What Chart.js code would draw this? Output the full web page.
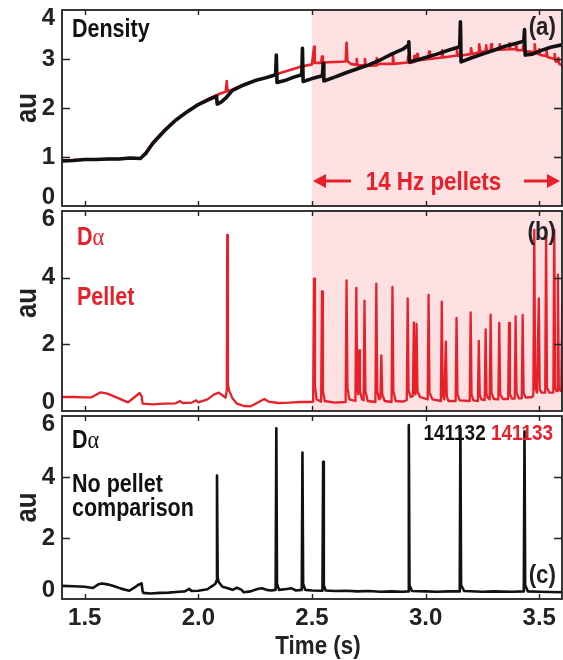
<!DOCTYPE html>
<html><head><meta charset="utf-8">
<script src="https://cdn.jsdelivr.net/npm/chart.js@4.4.1/dist/chart.umd.min.js"></script>
<style>
html,body{margin:0;padding:0;background:#fff;}
#wrap{position:relative;width:563px;height:660px;overflow:hidden;}
#wrap canvas{position:absolute;left:0;top:0;}
</style></head><body>
<div id="wrap">
<canvas id="ca" width="563" height="660"></canvas>
<canvas id="cb" width="563" height="660"></canvas>
<canvas id="cc" width="563" height="660"></canvas>
</div>
<script>
// ---------------- DATA ----------------
const timeTicks = [1.5, 2.0, 2.5, 3.0, 3.5];
const timeTickLabels = ['1.5', '2.0', '2.5', '3.0', '3.5'];
const timeRange = [1.4, 3.6];
const densityTicks = [0, 1, 2, 3, 4];
const dalphaTicks = [0, 2, 4, 6];
const pelletWindow = [2.5, 3.6];

// (a) line-averaged density, shot 141132 (no pellets, black)
const density141132 = [
 [1.40,0.92],[1.45,0.93],[1.50,0.95],[1.55,0.95],[1.60,0.96],[1.65,0.96],[1.70,0.98],[1.745,0.97],
 [1.77,1.08],[1.80,1.28],[1.85,1.53],[1.90,1.75],[1.95,1.92],[2.00,2.07],[2.05,2.18],[2.080,2.24],
 [2.083,2.08],[2.10,2.12],[2.12,2.20],[2.15,2.36],[2.20,2.47],[2.25,2.56],[2.30,2.62],[2.340,2.68],
 [2.343,3.08],[2.346,2.52],[2.38,2.56],[2.42,2.63],[2.455,2.68],[2.458,3.22],[2.461,2.54],[2.50,2.60],
 [2.546,2.66],[2.549,2.91],[2.552,2.55],[2.60,2.63],[2.65,2.72],[2.70,2.80],[2.75,2.88],[2.80,2.98],
 [2.85,3.10],[2.90,3.20],[2.923,3.28],[2.926,3.35],[2.929,2.94],[2.97,2.99],[3.00,3.03],[3.05,3.10],
 [3.10,3.18],[3.150,3.25],[3.153,3.76],[3.156,2.94],[3.20,3.02],[3.25,3.10],[3.30,3.18],[3.35,3.26],
 [3.40,3.32],[3.432,3.36],[3.435,3.60],[3.438,3.08],[3.47,3.10],[3.50,3.16],[3.55,3.24],[3.60,3.29]
];
// (a) density, shot 141133 (14 Hz pellets, red)
const density141133 = [
 [1.40,0.93],[1.45,0.94],[1.50,0.95],[1.55,0.95],[1.60,0.96],[1.65,0.96],[1.70,0.97],[1.745,0.98],
 [1.77,1.10],[1.80,1.30],[1.85,1.55],[1.90,1.76],[1.95,1.93],[2.00,2.08],[2.05,2.20],[2.10,2.30],
 [2.120,2.33],[2.125,2.55],[2.128,2.34],[2.15,2.38],[2.20,2.48],[2.25,2.56],[2.30,2.63],[2.35,2.70],
 [2.40,2.77],[2.45,2.84],[2.50,2.89],[2.509,3.25],[2.512,2.92],[2.54,2.92],[2.544,3.05],[2.548,2.93],
 [2.60,2.94],[2.648,2.95],[2.652,3.33],[2.656,2.96],[2.67,2.90],[2.695,2.88],[2.697,3.00],[2.70,2.87],
 [2.731,2.87],[2.733,3.00],[2.736,2.86],[2.783,2.87],[2.785,3.02],[2.788,2.88],[2.80,2.90],[2.854,2.90],
 [2.856,3.08],[2.86,2.90],[2.921,2.93],[2.923,3.05],[2.927,2.92],[2.948,2.94],[2.950,3.06],[2.953,2.95],
 [2.96,2.96],[2.962,3.10],[2.966,2.97],[3.013,3.00],[3.015,3.15],[3.019,3.00],[3.071,3.03],[3.073,3.18],
 [3.077,3.03],[3.136,3.07],[3.138,3.18],[3.142,3.06],[3.198,3.10],[3.200,3.22],[3.204,3.10],[3.234,3.13],
 [3.236,3.30],[3.240,3.14],[3.264,3.16],[3.266,3.28],[3.270,3.16],[3.286,3.17],[3.288,3.30],[3.292,3.18],
 [3.324,3.19],[3.326,3.30],[3.330,3.19],[3.367,3.20],[3.369,3.32],[3.373,3.20],[3.396,3.20],[3.398,3.30],
 [3.402,3.18],[3.427,3.18],[3.429,3.28],[3.433,3.16],[3.478,3.14],[3.480,3.30],[3.484,3.12],[3.498,3.10],
 [3.500,3.20],[3.504,3.08],[3.530,3.06],[3.532,3.20],[3.536,3.04],[3.566,3.00],[3.568,3.10],[3.572,2.95],
 [3.582,2.94],[3.584,3.02],[3.588,2.90],[3.600,2.87]
];
// (b) D-alpha, shot 141133 (pellets)
const dalpha141133 = [
 [1.40,0.42],[1.45,0.42],[1.50,0.41],[1.53,0.41],[1.57,0.56],[1.60,0.52],[1.65,0.38],[1.69,0.26],
 [1.72,0.42],[1.742,0.54],[1.750,0.45],[1.755,0.22],[1.80,0.20],[1.85,0.22],[1.90,0.23],[1.92,0.30],
 [1.93,0.24],[1.97,0.25],[1.99,0.32],[2.00,0.26],[2.04,0.35],[2.07,0.50],[2.09,0.55],[2.11,0.45],
 [2.12,0.40],[2.125,0.60],[2.127,5.28],[2.130,0.80],[2.135,0.62],[2.15,0.38],[2.17,0.22],[2.20,0.15],
 [2.23,0.14],[2.26,0.25],[2.29,0.36],[2.31,0.28],[2.35,0.24],[2.40,0.25],[2.45,0.27],[2.50,0.27],
 [2.505,0.28],[2.509,3.97],[2.513,0.75],[2.520,0.35],[2.540,0.28],[2.544,3.59],[2.548,0.60],[2.556,0.30],
 [2.60,0.25],[2.648,0.27],[2.652,3.92],[2.656,0.70],[2.664,0.35],[2.691,0.30],[2.695,3.69],[2.699,0.80],
 [2.703,0.50],[2.707,1.82],[2.711,0.60],[2.720,0.35],[2.727,0.32],[2.731,3.31],[2.735,0.60],[2.745,0.30],
 [2.779,0.27],[2.783,3.82],[2.787,0.60],[2.795,0.35],[2.801,0.38],[2.805,1.67],[2.809,0.50],[2.820,0.30],
 [2.850,0.27],[2.854,3.72],[2.858,0.60],[2.868,0.30],[2.900,0.28],[2.917,0.33],[2.921,3.38],[2.925,0.60],
 [2.935,0.42],[2.944,0.45],[2.948,2.66],[2.952,0.55],[2.956,0.50],[2.960,2.61],[2.964,0.60],[2.975,0.42],
 [3.009,0.35],[3.013,3.48],[3.017,0.55],[3.030,0.35],[3.067,0.30],[3.071,3.28],[3.075,0.50],[3.082,0.35],
 [3.085,0.35],[3.089,2.08],[3.093,0.45],[3.100,0.30],[3.132,0.30],[3.136,2.79],[3.140,0.50],[3.150,0.32],
 [3.194,0.30],[3.198,2.96],[3.202,0.50],[3.210,0.32],[3.230,0.30],[3.234,2.10],[3.238,0.50],[3.245,0.35],
 [3.260,0.33],[3.264,2.45],[3.268,0.50],[3.275,0.38],[3.282,0.35],[3.286,2.89],[3.290,0.55],[3.300,0.36],
 [3.320,0.35],[3.324,2.64],[3.328,0.50],[3.340,0.36],[3.363,0.36],[3.367,2.64],[3.371,0.50],[3.380,0.37],
 [3.392,0.37],[3.396,2.84],[3.400,0.55],[3.410,0.38],[3.423,0.38],[3.427,2.88],[3.431,0.55],[3.440,0.40],
 [3.470,0.42],[3.474,0.50],[3.478,5.43],[3.482,0.70],[3.490,0.55],[3.494,0.55],[3.498,3.38],[3.502,0.65],
 [3.510,0.55],[3.526,0.55],[3.530,5.38],[3.534,0.70],[3.545,0.55],[3.562,0.55],[3.566,5.43],[3.570,0.70],
 [3.576,0.60],[3.579,0.60],[3.582,4.09],[3.586,0.70],[3.594,0.60],[3.597,0.60],[3.601,3.18]
];
// (c) D-alpha, shot 141132 (no pellets)
const dalpha141132 = [
 [1.40,0.43],[1.45,0.42],[1.50,0.40],[1.536,0.36],[1.56,0.48],[1.576,0.51],[1.60,0.48],[1.63,0.42],
 [1.66,0.34],[1.695,0.27],[1.72,0.38],[1.734,0.46],[1.750,0.51],[1.755,0.25],[1.758,0.20],[1.79,0.18],
 [1.83,0.20],[1.87,0.21],[1.916,0.24],[1.94,0.25],[1.96,0.33],[1.97,0.26],[2.00,0.27],[2.04,0.32],
 [2.06,0.42],[2.075,0.50],[2.080,0.60],[2.082,4.05],[2.085,0.70],[2.090,0.55],[2.106,0.40],[2.13,0.35],
 [2.15,0.30],[2.17,0.37],[2.19,0.30],[2.20,0.22],[2.23,0.25],[2.26,0.33],[2.28,0.35],[2.30,0.30],
 [2.32,0.28],[2.340,0.30],[2.343,5.60],[2.346,0.50],[2.355,0.30],[2.39,0.33],[2.41,0.35],[2.43,0.28],
 [2.455,0.30],[2.458,4.80],[2.461,0.50],[2.47,0.30],[2.50,0.28],[2.546,0.27],[2.549,4.50],[2.552,0.45],
 [2.56,0.28],[2.60,0.26],[2.65,0.27],[2.70,0.25],[2.75,0.26],[2.80,0.24],[2.85,0.25],[2.90,0.24],
 [2.923,0.25],[2.926,5.70],[2.929,0.45],[2.94,0.26],[3.00,0.25],[3.05,0.24],[3.10,0.25],[3.150,0.25],
 [3.153,5.60],[3.156,0.45],[3.17,0.26],[3.25,0.24],[3.30,0.25],[3.38,0.24],[3.432,0.25],[3.435,5.50],
 [3.438,0.45],[3.45,0.25],[3.50,0.24],[3.55,0.23],[3.60,0.22]
];

// ---------------- STYLE ----------------
const FAM = "'Liberation Sans',Arimo,Arial,sans-serif";
const SX = 0.86;               // horizontal condensing of annotation text
const RED = '#e8202a';
const BLACK = '#111111';
const AXIS = '#222222';
const SHADE = '#fce0e2';
const bf = (s) => `bold ${s}px ${FAM}`;
const ALPHA = "26px 'Liberation Serif','DejaVu Serif',serif";
const toXY = a => a.map(p => ({x: p[0], y: p[1]}));

function drawParts(ctx, parts, x, y, align, rot) {
  ctx.save();
  let total = 0;
  parts.forEach(p => { ctx.font = p.font; total += ctx.measureText(p.text).width; });
  ctx.translate(x, y);
  if (rot) ctx.rotate(rot);
  ctx.scale(SX, 1);
  let cx = align === 'right' ? -total : align === 'center' ? -total / 2 : 0;
  ctx.textAlign = 'left';
  ctx.textBaseline = 'alphabetic';
  parts.forEach(p => {
    ctx.font = p.font; ctx.fillStyle = p.color;
    ctx.fillText(p.text, cx, 0);
    cx += ctx.measureText(p.text).width;
  });
  ctx.restore();
}

const framePlugin = {
  id: 'frame',
  beforeDatasetsDraw(chart, args, o) {
    if (!o.shade) return;
    const {ctx, chartArea: ca, scales: {x}} = chart;
    const x0 = x.getPixelForValue(pelletWindow[0]);
    const x1 = x.getPixelForValue(pelletWindow[1]);
    ctx.save();
    ctx.fillStyle = SHADE;
    ctx.fillRect(x0, ca.top, x1 - x0, ca.bottom - ca.top);
    ctx.restore();
  },
  afterDatasetsDraw(chart, args, o) {
    const {ctx, chartArea: ca, scales: {x, y}} = chart;
    ctx.save();
    ctx.strokeStyle = AXIS;
    ctx.lineWidth = 1.8;
    ctx.strokeRect(ca.left, ca.top, ca.right - ca.left, ca.bottom - ca.top);
    ctx.lineWidth = 1.4;
    ctx.beginPath();
    timeTicks.forEach(v => {
      const px = Math.round(x.getPixelForValue(v)) + 0.5;
      ctx.moveTo(px, ca.bottom); ctx.lineTo(px, ca.bottom - 5);
      ctx.moveTo(px, ca.top); ctx.lineTo(px, ca.top + 5);
    });
    o.yTicks.forEach(v => {
      if (v <= y.min || v >= y.max) return;
      const py = Math.round(y.getPixelForValue(v)) + 0.5;
      ctx.moveTo(ca.left, py); ctx.lineTo(ca.left + 8, py);
      ctx.moveTo(ca.right, py); ctx.lineTo(ca.right - 8, py);
    });
    ctx.stroke();
    ctx.restore();
    // y-axis title
    drawParts(ctx, [{text: 'au', font: bf(30), color: AXIS}], 36, (ca.top + ca.bottom) / 2 + o.auShift, 'center', -Math.PI / 2);
    // x-axis title
    if (o.xTitle) drawParts(ctx, [{text: o.xTitle, font: bf(26), color: AXIS}], (ca.left + ca.right) / 2 + 6, 654, 'center');
    // annotations
    (o.texts || []).forEach(t => drawParts(ctx, t.parts, t.x, t.y, t.align));
    if (o.arrow) {
      const xa = x.getPixelForValue(pelletWindow[0]) + 1;
      const xb = x.getPixelForValue(pelletWindow[1]) - 2;
      const ay = o.arrow.y;
      ctx.save();
      ctx.strokeStyle = RED; ctx.fillStyle = RED; ctx.lineWidth = 3;
      ctx.beginPath();
      ctx.moveTo(xa + 8, ay); ctx.lineTo(xa + 38, ay);
      ctx.moveTo(xb - 36, ay); ctx.lineTo(xb - 8, ay);
      ctx.stroke();
      ctx.beginPath();
      ctx.moveTo(xa, ay); ctx.lineTo(xa + 13, ay - 7); ctx.lineTo(xa + 13, ay + 7); ctx.closePath();
      ctx.moveTo(xb, ay); ctx.lineTo(xb - 13, ay - 7); ctx.lineTo(xb - 13, ay + 7); ctx.closePath();
      ctx.fill();
      ctx.restore();
      drawParts(ctx, [{text: o.arrow.text, font: bf(26), color: RED}], (xa + xb) / 2 - 3, ay + 9, 'center');
    }
  }
};

function makeChart(id, cfg) {
  return new Chart(document.getElementById(id), {
    type: 'line',
    data: {datasets: cfg.datasets},
    plugins: [framePlugin],
    options: {
      responsive: false, animation: false, events: [],
      layout: {padding: {top: cfg.top, bottom: cfg.bottom, left: 0, right: 1}},
      elements: {point: {radius: 0}, line: {tension: 0, borderJoinStyle: 'round', borderCapStyle: 'round'}},
      plugins: {
        legend: {display: false}, tooltip: {enabled: false},
        frame: {shade: cfg.shade, yTicks: cfg.yTicks, texts: cfg.texts, arrow: cfg.arrow,
                auShift: cfg.auShift || 0, xTitle: cfg.showX ? 'Time (s)' : null}
      },
      scales: {
        x: {
          type: 'linear', min: timeRange[0], max: timeRange[1], display: cfg.showX,
          grid: {display: false, drawTicks: false}, border: {display: false},
          afterBuildTicks: s => { s.ticks = timeTicks.map(v => ({value: v})); },
          afterFit: s => { if (cfg.showX) s.height = 61; s.paddingLeft = 0; s.paddingRight = 0; },
          ticks: {
            autoSkip: false, maxRotation: 0, padding: 5, color: AXIS,
            font: {family: FAM, size: 24, weight: 'bold'},
            callback: (v, i) => timeTickLabels[i]
          }
        },
        y: {
          type: 'linear', min: cfg.yTicks[0], max: cfg.yTicks[cfg.yTicks.length - 1],
          grid: {display: false, drawTicks: false}, border: {display: false},
          afterBuildTicks: s => { s.ticks = cfg.yTicks.map(v => ({value: v})); },
          afterFit: s => { s.width = 62; s.paddingTop = 0; s.paddingBottom = 0; },
          ticks: {
            padding: 7, color: AXIS,
            font: {family: FAM, size: 24, weight: 'bold', lineHeight: 0.7},
            callback: (v, i, arr) => {
              const t = String(v);
              if (i === 0) return [t, ''];
              if (i === arr.length - 1) return ['', t];
              return t;
            }
          }
        }
      }
    }
  });
}

makeChart('ca', {
  top: 10, bottom: 454, showX: false, shade: true, yTicks: densityTicks,
  datasets: [
    {data: toXY(density141132), borderColor: BLACK, borderWidth: 3.6},
    {data: toXY(density141133), borderColor: RED, borderWidth: 2.6}
  ],
  texts: [
    {parts: [{text: 'Density', font: bf(25), color: BLACK}], x: 72, y: 37},
    {parts: [{text: '(a)', font: bf(26), color: AXIS}], x: 556, y: 35, align: 'right'}
  ],
  arrow: {y: 181, text: '14 Hz pellets'}
});

makeChart('cb', {
  top: 211, bottom: 249, showX: false, shade: true, yTicks: dalphaTicks, auShift: -8,
  datasets: [
    {data: toXY(dalpha141133), borderColor: RED, borderWidth: 2.3}
  ],
  texts: [
    {parts: [{text: 'D', font: bf(25), color: RED}, {text: 'α', font: ALPHA, color: RED}], x: 77, y: 245},
    {parts: [{text: 'Pellet', font: bf(25), color: RED}], x: 77, y: 305},
    {parts: [{text: '(b)', font: bf(26), color: AXIS}], x: 556, y: 240, align: 'right'}
  ]
});

makeChart('cc', {
  top: 416, bottom: 0, showX: true, shade: false, yTicks: dalphaTicks,
  datasets: [
    {data: toXY(dalpha141132), borderColor: BLACK, borderWidth: 2.6}
  ],
  texts: [
    {parts: [{text: 'D', font: bf(25), color: BLACK}, {text: 'α', font: ALPHA, color: BLACK}], x: 72, y: 448},
    {parts: [{text: 'No pellet', font: bf(25), color: BLACK}], x: 72, y: 492},
    {parts: [{text: 'comparison', font: bf(25), color: BLACK}], x: 72, y: 516},
    {parts: [{text: '141132 ', font: bf(22), color: BLACK}, {text: '141133', font: bf(22), color: RED}], x: 553, y: 440, align: 'right'},
    {parts: [{text: '(c)', font: bf(26), color: AXIS}], x: 556, y: 583, align: 'right'}
  ]
});
</script>
</body></html>
